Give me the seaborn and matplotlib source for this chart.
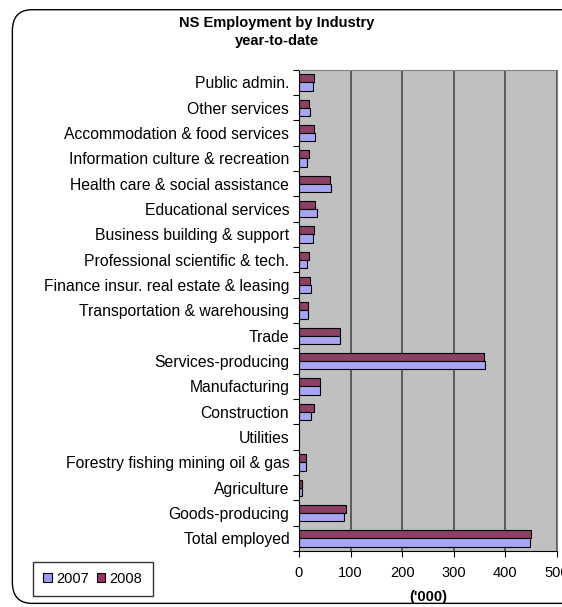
import numpy as np
import pandas as pd
import seaborn as sns
import matplotlib.pyplot as plt
from matplotlib.patches import FancyBboxPatch, Patch

# Categories listed top to bottom
industries = [
    "Public admin.", "Other services", "Accommodation & food services",
    "Information culture & recreation", "Health care & social assistance",
    "Educational services", "Business building & support",
    "Professional scientific & tech.", "Finance insur. real estate & leasing",
    "Transportation & warehousing", "Trade", "Services-producing",
    "Manufacturing", "Construction", "Utilities",
    "Forestry fishing mining oil & gas", "Agriculture", "Goods-producing",
    "Total employed",
]
emp_2007 = [27, 21, 32, 16, 63, 35, 27, 16, 24, 18, 79, 361, 40, 24, 0, 13, 5, 87, 447]
emp_2008 = [30, 19, 29, 19, 60, 32, 30, 19, 22, 18, 79, 358, 40, 29, 0, 13, 5, 92, 450]
years = ["2007", "2008"]
x_ticks = [0, 100, 200, 300, 400, 500]

c2007 = "#9999FF"
c2008 = "#993366"

df = pd.DataFrame({
    "Industry": industries * 2,
    "Employed": emp_2007 + emp_2008,
    "Year": [years[0]] * len(industries) + [years[1]] * len(industries),
})

plt.rcParams["font.family"] = ["Liberation Sans", "DejaVu Sans"]

fig = plt.figure(figsize=(5.62, 6.07), dpi=100)
ax = fig.add_axes([0.532, 0.092, 0.459, 0.793])

sns.barplot(data=df, y="Industry", x="Employed", hue="Year",
            order=industries, hue_order=["2008", "2007"],
            palette={"2007": c2007, "2008": c2008},
            orient="h", width=0.64, edgecolor="black", linewidth=0.8,
            legend=False, ax=ax)

ax.set_facecolor("#C0C0C0")
ax.set_xlim(0, 500)
ax.set_ylim(len(industries) - 0.5, -0.5)
ax.set_xticks(x_ticks)
ax.set_xticklabels([str(t) for t in x_ticks], fontsize=10.5)
ax.tick_params(axis="x", length=4, width=0.8, pad=7)
ax.tick_params(axis="y", which="major", length=0, labelsize=11.3, pad=7)
ax.set_yticks(np.arange(-0.5, len(industries), 1), minor=True)
ax.tick_params(axis="y", which="minor", length=4, width=0.8)
ax.grid(axis="x", color="#404040", linewidth=1.1)
ax.set_axisbelow(True)
for side in ["top", "right"]:
    ax.spines[side].set_color("#808080")
ax.spines["left"].set_color("black")
ax.spines["bottom"].set_color("black")
ax.set_ylabel("")
ax.set_xlabel("('000)", fontsize=10.5, fontweight="bold", labelpad=7)

fig.text(0.493, 0.962, "NS Employment by Industry", ha="center", va="center",
         fontsize=10.5, fontweight="bold")
fig.text(0.493, 0.933, "year-to-date", ha="center", va="center",
         fontsize=10.5, fontweight="bold")

handles = [Patch(facecolor=c2007, edgecolor="black", linewidth=0.8, label="2007"),
           Patch(facecolor=c2008, edgecolor="black", linewidth=0.8, label="2008")]
fig.legend(handles=handles, loc="lower left", bbox_to_anchor=(0.046, 0.006),
           ncol=2, frameon=True, fancybox=False, edgecolor="black",
           fontsize=10.5, handlelength=0.6, handleheight=0.6, handletextpad=0.3,
           columnspacing=0.5, borderpad=0.7)

border = FancyBboxPatch((0.022, 0.006), 1.2, 0.978, transform=fig.transFigure,
                        boxstyle="round,pad=0,rounding_size=0.035",
                        facecolor="none", edgecolor="black", linewidth=1.0,
                        clip_on=False)
fig.patches.append(border)

fig.savefig("out.png", dpi=100)
